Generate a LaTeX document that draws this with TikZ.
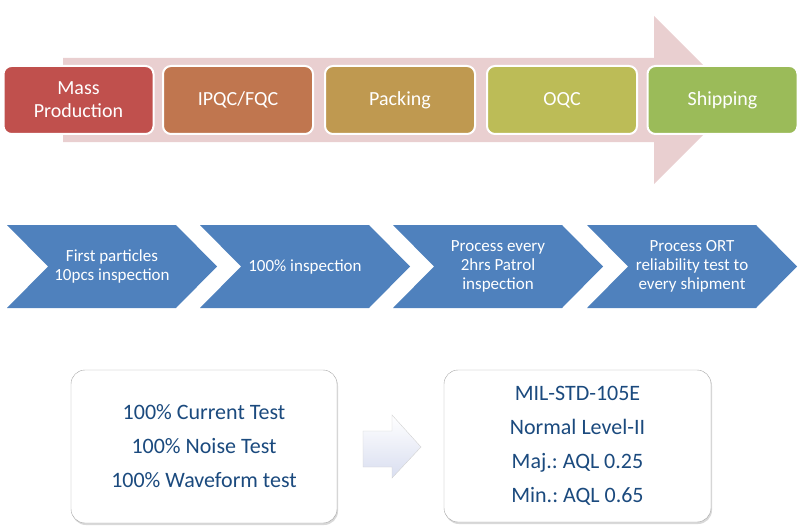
\documentclass[tikz,border=0pt]{standalone}
\usepackage{fontspec}
\setmainfont{Carlito}
\usetikzlibrary{shadows}
\definecolor{massred}{HTML}{C0504D}
\definecolor{ipqcorange}{HTML}{C0764F}
\definecolor{packgold}{HTML}{BF9950}
\definecolor{oqcolive}{HTML}{BCBC57}
\definecolor{shipgreen}{HTML}{9BBB59}
\definecolor{flowpink}{HTML}{E9CFD0}
\definecolor{chevblue}{HTML}{4F81BD}
\definecolor{cardblue}{HTML}{1B4A7E}
\definecolor{arrowlav}{HTML}{D9DEF0}
\frenchspacing

\tikzset{
  stage/.style={draw=white, line width=2pt, rounded corners=8pt, minimum width=150pt, minimum height=68pt, inner sep=0pt, align=center, text=white, font=\fontsize{20}{23}\selectfont},
  chevron/.style={fill=chevblue},
  chevtext/.style={align=center, text=white, font=\fontsize{17}{19}\selectfont},
  card/.style={draw=gray!70, fill=white, rounded corners=14pt, minimum width=266pt, minimum height=153pt, drop shadow={opacity=0.3, shadow xshift=1pt, shadow yshift=-2pt}},
  cardtext/.style={align=center, text=cardblue, font=\fontsize{22}{34}\selectfont},
}

\begin{document}
\begin{tikzpicture}[x=1pt, y=-1pt]
        \useasboundingbox (0,0) rectangle (800,532);

        \fill[flowpink] (63,58) -- (654,58) -- (654,16) -- (738,100) -- (654,184) -- (654,142) -- (63,142) -- cycle;

        \node[stage, fill=massred] (mass) at (78.5,100) {Mass\\Production};
        \node[stage, fill=ipqcorange] (ipqc) at (238,100) {IPQC/FQC};
        \node[stage, fill=packgold] (pack) at (400,100) {Packing};
        \node[stage, fill=oqcolive] (oqc) at (562,100) {OQC};
        \node[stage, fill=shipgreen] (ship) at (722.5,100) {Shipping};

        \foreach \x/\name/\txt in {7/first/{First particles\\10pcs inspection}, 200/full/{100\% inspection}, 393/patrol/{Process every\\2hrs Patrol\\inspection}, 587/ort/{Process ORT\\reliability test to\\every shipment}} {
            \fill[chevron] (\x,225) -- (\x+169,225) -- (\x+210,266.5) -- (\x+169,308) -- (\x,308) -- (\x+41,266.5) -- cycle;
            \node[chevtext] (\name) at (\x+105,266.5) {\txt};
        }

        \node[card, cardtext] (tests) at (204,446.5) {100\% Current Test\\100\% Noise Test\\100\% Waveform test};
        \node[card, cardtext, minimum width=267pt, minimum height=152pt] (aql) at (577.5,446) {MIL-STD-105E\\Normal Level-II\\Maj.: AQL 0.25\\Min.: AQL 0.65};

        \draw[gray!35, top color=white, bottom color=arrowlav] (363,431) -- (392,431) -- (392,415) -- (421,447) -- (392,478) -- (392,467) -- (363,467) -- cycle;
\end{tikzpicture}
\end{document}
